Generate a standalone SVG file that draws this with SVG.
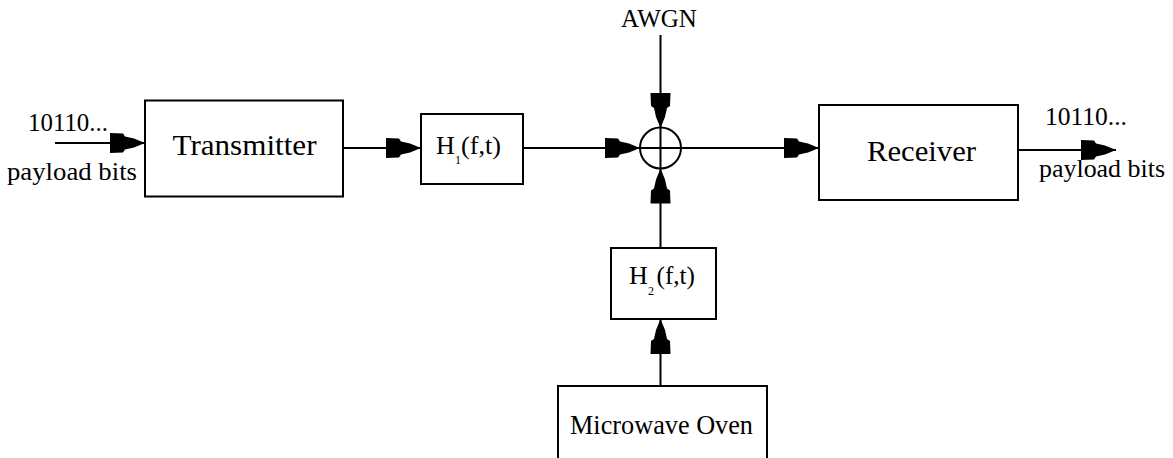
<svg xmlns="http://www.w3.org/2000/svg" width="1173" height="458" viewBox="0 0 1173 458">
  <style>
    .box { fill: #ffffff; stroke: #000000; stroke-width: 2; }
    .wire { fill: none; stroke: #000000; stroke-width: 2; }
    .txt { font-family: "Liberation Serif", "Times New Roman", serif; fill: #000000; }
  </style>
  <defs>
    <marker id="arr" viewBox="0 -11 36 22" refX="35" refY="0" markerWidth="36" markerHeight="22" markerUnits="userSpaceOnUse" orient="auto">
      <path d="M0,-10 L13,-9.5 L15,-6.5 L24,-4.5 L35,0 L24,4.5 L15,6.5 L13,9.5 L0,10 Z" fill="#000000"/>
    </marker>
  </defs>
  <rect x="0" y="0" width="1173" height="458" fill="#ffffff"/>

  <g id="connectors">
    <line class="wire" x1="55" y1="143" x2="145" y2="143" marker-end="url(#arr)"/>
    <line class="wire" x1="343" y1="148" x2="421" y2="148" marker-end="url(#arr)"/>
    <line class="wire" x1="523" y1="148" x2="640" y2="148" marker-end="url(#arr)"/>
    <line class="wire" x1="640" y1="148" x2="819" y2="148" marker-end="url(#arr)"/>
    <line class="wire" x1="1018" y1="150" x2="1116" y2="150" marker-end="url(#arr)"/>
    <line class="wire" x1="660.5" y1="35" x2="660.5" y2="128" marker-end="url(#arr)"/>
    <line class="wire" x1="660.5" y1="128" x2="660.5" y2="168.5"/>
    <line class="wire" x1="660.5" y1="248" x2="660.5" y2="168.5" marker-end="url(#arr)"/>
    <line class="wire" x1="660.5" y1="386" x2="660.5" y2="319" marker-end="url(#arr)"/>
  </g>

  <g id="input-label">
    <text class="txt" x="28" y="131" font-size="26" textLength="80" lengthAdjust="spacingAndGlyphs">10110...</text>
    <text class="txt" x="7" y="180" font-size="26" textLength="130" lengthAdjust="spacingAndGlyphs">payload bits</text>
  </g>

  <g id="transmitter">
    <rect class="box" x="145" y="100.5" width="198" height="96"/>
    <text class="txt" x="172.5" y="155" font-size="30" textLength="144" lengthAdjust="spacingAndGlyphs">Transmitter</text>
  </g>

  <g id="h1">
    <rect class="box" x="421" y="114" width="102" height="70"/>
    <text class="txt" x="436" y="153.5" font-size="26">H</text>
    <text class="txt" x="455" y="164" font-size="12">1</text>
    <text class="txt" x="461" y="153.5" font-size="26" textLength="40" lengthAdjust="spacingAndGlyphs">(f,t)</text>
  </g>

  <g id="awgn">
    <text class="txt" x="659" y="27" font-size="25" text-anchor="middle">AWGN</text>
  </g>

  <g id="sum">
    <circle cx="660.5" cy="148" r="20.5" fill="none" stroke="#000000" stroke-width="2"/>
  </g>

  <g id="receiver">
    <rect class="box" x="819" y="105" width="199" height="95"/>
    <text class="txt" x="867" y="160.5" font-size="29" textLength="109" lengthAdjust="spacingAndGlyphs">Receiver</text>
  </g>

  <g id="output-label">
    <text class="txt" x="1045" y="125" font-size="26" textLength="82" lengthAdjust="spacingAndGlyphs">10110...</text>
    <text class="txt" x="1039" y="177" font-size="26" textLength="126" lengthAdjust="spacingAndGlyphs">payload bits</text>
  </g>

  <g id="h2">
    <rect class="box" x="611" y="248" width="105" height="71"/>
    <text class="txt" x="629" y="283.5" font-size="26">H</text>
    <text class="txt" x="648" y="295" font-size="12">2</text>
    <text class="txt" x="656.5" y="283.5" font-size="26" textLength="38.5" lengthAdjust="spacingAndGlyphs">(f,t)</text>
  </g>

  <g id="microwave-oven">
    <rect class="box" x="558" y="386" width="209" height="100"/>
    <text class="txt" x="570" y="433.5" font-size="28" textLength="183" lengthAdjust="spacingAndGlyphs">Microwave Oven</text>
  </g>
</svg>
